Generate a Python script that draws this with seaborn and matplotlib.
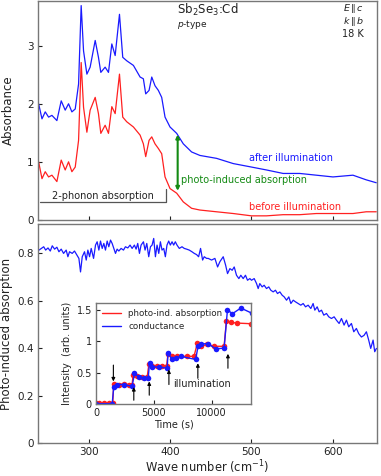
import numpy as np
import pandas as pd
import matplotlib
matplotlib.use("Agg")
import matplotlib.pyplot as plt
import seaborn as sns
from matplotlib.ticker import FuncFormatter

sns.set_theme(style="white")
plt.rcParams['font.family'] = ['DejaVu Sans']

# ---------------- data ----------------
wn_top = [238.8, 242.9, 246.9, 251.0, 255.1, 261.2, 266.5, 271.4, 275.5, 279.6, 283.7,
          287.8, 291.0, 293.9, 298.0, 302.0, 308.2, 312.2, 315.1, 320.4, 324.5, 328.6,
          332.7, 338.0, 342.0, 346.9, 355.1, 363.3, 367.3, 370.2, 374.3, 377.6, 381.6,
          385.7, 389.8, 393.9, 400.0, 408.2, 416.3, 426.5, 436.7, 457.1, 477.6, 500.0,
          518.4, 538.8, 559.2, 579.6, 600.0, 624.5, 640.8, 653.1]
after_illum = [2.00, 1.74, 1.86, 1.77, 1.80, 1.71, 2.05, 1.89, 2.00, 1.86, 1.91,
               2.34, 3.69, 2.91, 2.51, 2.63, 3.09, 2.80, 2.54, 2.63, 2.54, 3.03,
               2.83, 3.54, 2.80, 2.74, 2.66, 2.46, 2.43, 2.17, 2.23, 2.46, 2.31,
               2.23, 2.11, 1.77, 1.60, 1.49, 1.31, 1.17, 1.11, 1.06, 0.97, 0.91,
               0.86, 0.80, 0.80, 0.77, 0.74, 0.77, 0.69, 0.64]
before_illum = [1.00, 0.71, 0.83, 0.74, 0.77, 0.66, 1.03, 0.86, 1.00, 0.83, 0.91,
                1.37, 2.71, 1.94, 1.51, 1.89, 2.11, 1.83, 1.49, 1.63, 1.49, 1.95,
                1.83, 2.51, 1.77, 1.69, 1.60, 1.46, 1.31, 1.09, 1.37, 1.43, 1.31,
                1.23, 1.14, 0.74, 0.54, 0.46, 0.31, 0.20, 0.17, 0.14, 0.11, 0.07,
                0.07, 0.09, 0.09, 0.11, 0.11, 0.11, 0.14, 0.14]

wn_pia = [239.3, 242.1, 245.0, 247.4, 250.3, 253.1, 255.5, 258.4, 261.2, 263.7, 266.5,
          269.4, 272.6, 274.7, 276.7, 280.0, 282.8, 285.7, 288.2, 290.2, 292.3, 295.1,
          297.2, 299.2, 301.3, 303.3, 306.2, 308.6, 310.6, 312.7, 314.7, 316.8, 318.8,
          320.8, 322.9, 324.9, 327.0, 329.0, 331.1, 333.1, 335.1, 337.2, 340.0, 342.9,
          345.3, 348.2, 351.0, 353.5, 356.3, 358.4, 360.4, 362.5, 364.5, 367.4, 369.4,
          371.5, 373.9, 376.0, 378.0, 380.0, 382.1, 384.1, 386.2, 388.2, 390.2, 392.3,
          394.3, 396.3, 398.4, 400.4, 402.5, 404.5, 406.5, 408.6, 411.4, 414.7, 417.5,
          420.4, 423.6, 426.9, 429.8, 432.6, 435.1, 437.5, 440.0, 442.0, 444.9,
          446.9, 451.0, 455.1, 458.4, 461.2, 465.3, 468.2, 470.6, 473.5, 476.3, 478.8,
          481.6, 484.5, 486.9, 489.8, 492.6, 495.1, 498.0, 500.0, 503.3, 506.2, 508.2,
          510.2, 513.1, 515.5, 518.4, 521.2, 523.7, 526.6, 529.4, 531.9, 534.8, 537.6,
          540.1, 543.0, 545.8, 548.3, 551.2, 554.0, 557.3, 560.5, 563.4, 566.3, 569.5,
          572.8, 575.6, 577.7, 580.6, 583.0, 585.9, 588.7, 592.0, 594.8, 598.1, 601.4,
          604.2, 607.5, 610.4, 613.6, 616.5, 619.3, 622.6, 625.5, 628.7, 631.6, 634.9,
          638.1, 641.0, 643.8, 646.3, 649.2, 651.2, 653.3]
pia = [0.813, 0.820, 0.827, 0.813, 0.822, 0.809, 0.831, 0.817, 0.825, 0.806, 0.817,
       0.799, 0.813, 0.785, 0.806, 0.799, 0.809, 0.792, 0.778, 0.721, 0.785, 0.806,
       0.771, 0.813, 0.785, 0.820, 0.778, 0.834, 0.848, 0.813, 0.851, 0.820, 0.841,
       0.813, 0.851, 0.827, 0.855, 0.841, 0.820, 0.799, 0.817, 0.809, 0.820, 0.813,
       0.827, 0.822, 0.834, 0.820, 0.834, 0.817, 0.841, 0.799, 0.834, 0.848, 0.813,
       0.841, 0.785, 0.827, 0.834, 0.862, 0.785, 0.834, 0.799, 0.848, 0.813, 0.820,
       0.785, 0.834, 0.851, 0.834, 0.848, 0.834, 0.848, 0.834, 0.820, 0.827, 0.820,
       0.817, 0.813, 0.806, 0.799, 0.794, 0.785, 0.820, 0.771, 0.785, 0.778,
       0.778, 0.771, 0.778, 0.742, 0.764, 0.785, 0.750, 0.714, 0.735, 0.728, 0.742,
       0.707, 0.693, 0.707, 0.693, 0.707, 0.686, 0.693, 0.686, 0.693, 0.672, 0.651,
       0.672, 0.658, 0.665, 0.651, 0.658, 0.644, 0.637, 0.644, 0.630, 0.637, 0.623,
       0.616, 0.602, 0.616, 0.588, 0.602, 0.595, 0.588, 0.581, 0.588, 0.574, 0.581,
       0.567, 0.588, 0.560, 0.574, 0.553, 0.560, 0.539, 0.546, 0.532, 0.525, 0.532,
       0.518, 0.504, 0.525, 0.497, 0.518, 0.490, 0.504, 0.469, 0.483, 0.461, 0.447,
       0.454, 0.469, 0.434, 0.399, 0.434, 0.385, 0.399]

t_red = [0, 300, 700, 1100, 1445, 1532, 1965, 2399, 2832, 3121, 3208, 3555, 3988,
         4422, 4566, 4855, 5289, 5723, 6098, 6214, 6590, 7023, 7890, 8468, 8757,
         9046, 9624, 10202, 11069, 11272, 11647, 12225, 13382]
photo_ind = [0.02, 0.02, 0.02, 0.02, 0.02, 0.32, 0.31, 0.32, 0.31, 0.31, 0.47, 0.45,
             0.43, 0.43, 0.63, 0.61, 0.61, 0.61, 0.60, 0.79, 0.76, 0.76, 0.76, 0.76,
             0.97, 0.92, 0.95, 0.92, 0.92, 1.33, 1.30, 1.29, 1.28]
t_blue = [0, 1400, 1532, 1820, 2399, 3121, 3324, 3699, 4133, 4509, 4624, 4855, 5434,
          6156, 6214, 6590, 6879, 7312, 8613, 8815, 9104, 9682, 10347, 11069, 11358,
          11792, 12514, 13439]
conductance = [0.005, 0.005, 0.27, 0.31, 0.31, 0.28, 0.49, 0.43, 0.41, 0.41, 0.66,
               0.59, 0.59, 0.57, 0.81, 0.71, 0.73, 0.76, 0.71, 0.92, 0.96, 0.96,
               0.88, 0.89, 1.50, 1.44, 1.53, 1.45]
illum_times = [1500, 3266, 4600, 6300, 8800, 11400]

BLUE = "#1a1aff"
RED = "#ff2020"
GREEN = "#138a13"
SPINE = "#777777"
TXT = "#222222"

fig = plt.figure(figsize=(3.81, 4.76), dpi=100)
ax1 = fig.add_axes([0.0997, 0.538, 0.8898, 0.460])
ax2 = fig.add_axes([0.0997, 0.069, 0.8898, 0.460])
axin = fig.add_axes([0.252, 0.1513, 0.407, 0.2121])

def style(ax, fs=7.5):
    for s in ax.spines.values():
        s.set_color(SPINE)
        s.set_linewidth(1.0)
    ax.tick_params(direction="in", length=3, width=0.8, color=TXT,
                   labelsize=fs, labelcolor=TXT, pad=3,
                   bottom=True, left=True, top=False, right=False)

fmt = FuncFormatter(lambda v, p: "0" if abs(v) < 1e-9 else f"{v:g}")

# ---------------- top panel ----------------
df_top = pd.DataFrame({"wn": wn_top, "after": after_illum, "before": before_illum})
sns.lineplot(data=df_top, x="wn", y="after", ax=ax1, color=BLUE, lw=0.9,
             sort=False, estimator=None)
sns.lineplot(data=df_top, x="wn", y="before", ax=ax1, color=RED, lw=0.9,
             sort=False, estimator=None)
ax1.set_xlim(238, 654)
ax1.set_ylim(0, 3.77)
ax1.set_xticks([300, 400, 500, 600])
ax1.set_xticklabels([])
ax1.set_yticks([0, 1, 2, 3])
ax1.yaxis.set_major_formatter(fmt)
ax1.set_xlabel("")
ax1.set_ylabel("Absorbance", fontsize=8.5, color=TXT, labelpad=9)
style(ax1)

ax1.text(408, 3.62, r"Sb$_2$Se$_3$:Cd", fontsize=8.5, color=TXT, va="center")
ax1.text(408, 3.37, r"$p$-type", fontsize=6.5, color=TXT, va="center")
ax1.text(638, 3.64, r"$E\,\|\,c$", fontsize=6.8, color=TXT, ha="right", va="center")
ax1.text(638, 3.41, r"$k\,\|\,b$", fontsize=6.8, color=TXT, ha="right", va="center")
ax1.text(638, 3.20, "18 K", fontsize=7, color=TXT, ha="right", va="center")
ax1.text(497, 1.06, "after illumination", fontsize=7, color=BLUE, va="center")
ax1.text(497, 0.22, "before illumination", fontsize=7, color=RED, va="center")
ax1.text(413, 0.69, "photo-induced absorption", fontsize=7, color=GREEN, va="center")
ax1.annotate("", xy=(409.4, 1.47), xytext=(409.4, 0.50),
             arrowprops=dict(arrowstyle="<|-|>", color=GREEN, lw=1.5,
                             mutation_scale=5, shrinkA=0, shrinkB=0))
ax1.plot([241, 395, 395], [0.30, 0.30, 0.54], color="#555555", lw=0.9)
ax1.text(318, 0.42, "2-phonon absorption", fontsize=7, color=TXT,
         ha="center", va="center")

# ---------------- bottom panel ----------------
df_pia = pd.DataFrame({"wn": wn_pia, "pia": pia})
sns.lineplot(data=df_pia, x="wn", y="pia", ax=ax2, color=BLUE, lw=0.9,
             sort=False, estimator=None)
ax2.set_xlim(238, 654)
ax2.set_ylim(0, 0.922)
ax2.set_xticks([300, 400, 500, 600])
ax2.set_yticks([0, 0.2, 0.4, 0.6, 0.8])
ax2.yaxis.set_major_formatter(fmt)
ax2.set_xlabel(r"Wave number (cm$^{-1}$)", fontsize=8.3, color=TXT, labelpad=1)
ax2.set_ylabel("Photo-induced absorption", fontsize=8.5, color=TXT, labelpad=3)
style(ax2)

# ---------------- inset ----------------
df_r = pd.DataFrame({"t": t_red, "v": photo_ind})
df_b = pd.DataFrame({"t": t_blue, "v": conductance})
sns.lineplot(data=df_r, x="t", y="v", ax=axin, color=RED, lw=1.0, marker="o",
             markersize=4, markeredgewidth=0, sort=False, estimator=None,
             label="photo-ind. absorption")
sns.lineplot(data=df_b, x="t", y="v", ax=axin, color=BLUE, lw=1.0, marker="o",
             markersize=4, markeredgewidth=0, sort=False, estimator=None,
             label="conductance")
axin.set_xlim(0, 13400)
axin.set_ylim(0, 1.61)
axin.set_xticks([0, 5000, 10000])
axin.set_yticks([0, 0.5, 1, 1.5])
axin.yaxis.set_major_formatter(fmt)
axin.set_xlabel("Time (s)", fontsize=7, color=TXT, labelpad=1)
axin.set_ylabel("Intensity  (arb. units)", fontsize=7, color=TXT, labelpad=3)
style(axin, fs=7)
axin.patch.set_facecolor("white")
leg = axin.legend(loc="upper left", frameon=False, fontsize=6.3, handlelength=2.2,
                  borderaxespad=0.3, labelspacing=0.4)
for line in leg.get_lines():
    line.set_marker("")

arr_kw = dict(arrowstyle="-|>", color="black", lw=0.8, mutation_scale=5,
              shrinkA=0, shrinkB=0)
axin.annotate("", xy=(illum_times[0], 0.36), xytext=(illum_times[0], 0.62), arrowprops=arr_kw)
axin.annotate("", xy=(illum_times[1], 0.27), xytext=(illum_times[1], 0.06), arrowprops=arr_kw)
axin.annotate("", xy=(illum_times[2], 0.36), xytext=(illum_times[2], 0.14), arrowprops=arr_kw)
axin.annotate("", xy=(illum_times[3], 0.55), xytext=(illum_times[3], 0.31), arrowprops=arr_kw)
axin.annotate("", xy=(illum_times[4], 0.65), xytext=(illum_times[4], 0.41), arrowprops=arr_kw)
axin.annotate("", xy=(illum_times[5], 0.80), xytext=(illum_times[5], 0.57), arrowprops=arr_kw)
axin.text(6700, 0.32, "illumination", fontsize=7, color=TXT, va="center")

fig.savefig("out.png", dpi=100)
